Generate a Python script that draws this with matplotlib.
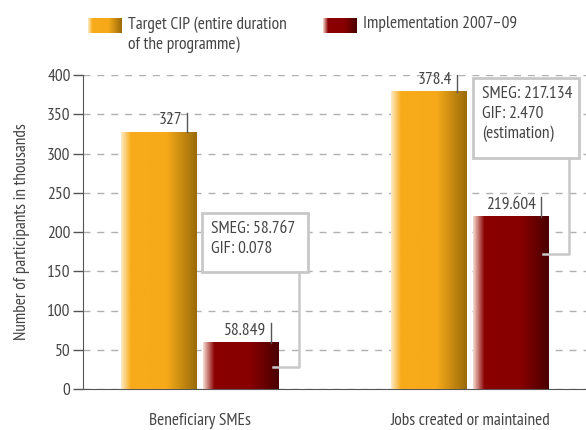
import numpy as np
import matplotlib
matplotlib.use('Agg')
import matplotlib.pyplot as plt
from matplotlib.colors import LinearSegmentedColormap
from matplotlib.patches import Rectangle

# data
categories = ['Beneficiary SMEs', 'Jobs created or maintained']
target_cip = [327, 378.4]
implementation = [58.849, 219.604]
target_labels = ['327', '378.4']
impl_labels = ['58.849', '219.604']
notes = ['SMEG: 58.767\nGIF: 0.078', 'SMEG: 217.134\nGIF: 2.470\n(estimation)']
series_names = ['Target CIP (entire duration\nof the programme)', 'Implementation 2007\u201309']
yticks = [0, 50, 100, 150, 200, 250, 300, 350, 400]

plt.rcParams['font.family'] = ['PT Sans Narrow', 'DejaVu Sans']
txt = '#444444'
fs = 12.5

orange_cm = LinearSegmentedColormap.from_list('o', [
    (0.0, '#fdebc8'), (0.13, '#f8ab1a'), (0.6, '#f6aa1a'), (1.0, '#9a6b08')])
red_cm = LinearSegmentedColormap.from_list('r', [
    (0.0, '#f7dcd0'), (0.15, '#8b0000'), (0.62, '#880000'), (1.0, '#4a0000')])
grad = np.linspace(0, 1, 256).reshape(1, -1)

fig = plt.figure(figsize=(5.86, 4.3), dpi=100)
ax = fig.add_axes([83/586, 1-389/430, 1-83/586, (389-75)/430])

width = 0.281
offset = 0.152
x = np.arange(len(categories))


def grad_bar(xc, h, cmap):
    ax.imshow(grad, cmap=cmap, aspect='auto', extent=(xc-width/2, xc+width/2, 0, h),
              interpolation='bilinear', zorder=3)


for i in range(len(categories)):
    xo = x[i] - offset
    xr = x[i] + offset
    grad_bar(xo, target_cip[i], orange_cm)
    grad_bar(xr, implementation[i], red_cm)
    # value labels with little tick line
    for xc, v, lab, inset in [(xo, target_cip[i], target_labels[i], 0.037),
                               (xr, implementation[i], impl_labels[i], 0.03)]:
        lx = xc + width/2 - inset
        ax.plot([lx, lx], [v, v + 25], color='#555555', lw=1, zorder=4)
        ax.text(lx - 0.018, v + 5, lab, ha='right', va='bottom', fontsize=fs, color=txt, zorder=4)

# callout boxes
boxes = [(0.007, 0.400, 149, 224, 28), (0.011, 0.404, 294, 396, 172)]
for i, (x0, x1, y0, y1, ye) in enumerate(boxes):
    gx = x[i]
    ax.add_patch(Rectangle((gx + x0, y0), x1 - x0, y1 - y0, fill=True,
                           ec='#c8c8c8', lw=2, zorder=5, facecolor='white'))
    ax.text(gx + x0 + 0.033, y1 - 10, notes[i], ha='left', va='top', fontsize=fs,
            color=txt, zorder=6, linespacing=1.3)
    cx = gx + 0.367
    ax.plot([cx, cx, gx + 0.27], [y0, ye, ye], color='#c8c8c8', lw=1.8, zorder=5)

ax.set_xlim(-0.433, 1.43)
ax.set_ylim(0, 400)
ax.set_yticks(yticks)
ax.set_yticklabels([str(t) for t in yticks], fontsize=fs, color=txt)
ax.set_xticks(x)
ax.set_xticklabels(categories, fontsize=fs, color=txt)
ax.tick_params(axis='x', length=0, pad=17)
ax.tick_params(axis='y', length=7, width=1, color='#555555', pad=2)
ax.yaxis.grid(True, color='#b0b0b0', lw=1, ls=(0, (5, 5)), zorder=1)
ax.set_axisbelow(True)
for s in ['top', 'right']:
    ax.spines[s].set_visible(False)
ax.spines['left'].set_color('#555555')
ax.spines['bottom'].set_color('#555555')
ax.set_ylabel('Number of participants in thousands', fontsize=fs, color=txt, labelpad=12)

# legend
for (lx, cmap, name) in [(88, orange_cm, series_names[0]), (323, red_cm, series_names[1])]:
    la = fig.add_axes([lx/586, 1-33/430, 34/586, 15/430])
    la.imshow(grad, cmap=cmap, aspect='auto', interpolation='bilinear')
    la.set_axis_off()
    fig.text((lx + 40)/586, 1-16/430, name, ha='left', va='top', fontsize=fs,
             color=txt, linespacing=1.3)

fig.savefig('out.png', dpi=100)
